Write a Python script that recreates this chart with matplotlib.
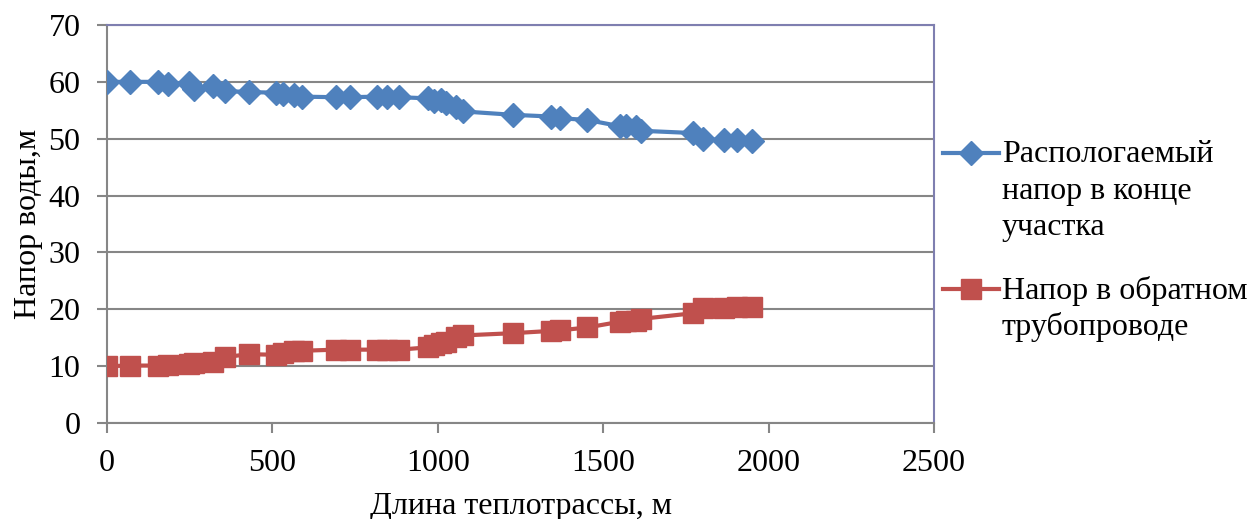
import matplotlib.pyplot as plt
from matplotlib.lines import Line2D

# === DATA ===
length_m = [0, 70, 153, 183, 248, 262, 320, 356, 430, 510, 532, 565, 588,
            692, 734, 817, 845, 884, 970, 988, 1010, 1026, 1056, 1076,
            1228, 1343, 1370, 1452, 1550, 1570, 1600, 1613, 1771, 1803,
            1864, 1905, 1950]
head_end = [60.0, 60.0, 60.0, 59.6, 59.8, 58.8, 59.2, 58.4, 58.2, 58.1, 57.9,
            57.7, 57.4, 57.3, 57.3, 57.4, 57.3, 57.3, 57.1, 56.6, 56.8, 56.3,
            55.5, 54.8, 54.2, 53.9, 53.6, 53.3, 52.2, 52.2, 52.1, 51.4, 51.0,
            50.0, 49.7, 49.7, 49.6]
head_return = [10.0, 10.1, 10.1, 10.2, 10.3, 10.5, 10.8, 11.6, 12.1, 12.0,
               12.3, 12.6, 12.7, 12.9, 12.9, 12.9, 12.9, 12.9, 13.3, 13.7,
               14.0, 14.3, 15.2, 15.4, 15.8, 16.2, 16.3, 16.8, 17.8, 17.9,
               18.0, 18.3, 19.3, 20.2, 20.3, 20.4, 20.4]
label_end = ['Распологаемый', 'напор в конце', 'участка']
label_return = ['Напор в обратном', 'трубопроводе']

blue = '#4F81BD'
red = '#C0504D'
grid_c = '#868686'
frame_c = '#7F7FB0'
fs = 23

plt.rcParams['font.family'] = ['Liberation Serif', 'DejaVu Serif']

# === VISUALIZATION ===
W, H = 1252, 519
fig = plt.figure(figsize=(W / 100, H / 100), dpi=100)
ax = fig.add_axes([107 / W, 1 - 423 / H, (934 - 107) / W, (423 - 25) / H])

ax.plot(length_m, head_end, color=blue, lw=3, marker='D', ms=12.5,
        markeredgecolor=blue, zorder=3)
ax.plot(length_m, head_return, color=red, lw=3, marker='s', ms=14,
        markeredgecolor=red, zorder=3)

ax.set_xlim(0, 2500)
ax.set_ylim(0, 70)
ax.set_xticks(range(0, 2501, 500))
ax.set_yticks(range(0, 71, 10))
ax.grid(axis='y', color=grid_c, lw=1.5)
ax.set_axisbelow(True)

for s in ['left', 'bottom']:
    ax.spines[s].set_color(grid_c)
    ax.spines[s].set_linewidth(1.5)
for s in ['top', 'right']:
    ax.spines[s].set_color(frame_c)
    ax.spines[s].set_linewidth(1.5)

ax.tick_params(axis='both', labelsize=fs, color=grid_c, width=1.5, length=7)
ax.tick_params(axis='y', pad=12)
ax.tick_params(axis='x', pad=12)

ax.set_xlabel('Длина теплотрассы, м', fontsize=fs, labelpad=10)
ax.set_ylabel('Напор воды,м', fontsize=fs, labelpad=4)

# legend drawn by hand: handle aligned with first text line, as in Excel
def px(x, y):
    return x / W, 1 - y / H

line_gap = 36.5
for first_y, color, mk, ms, lines in [(153, blue, 'D', 12.5, label_end),
                                      (289, red, 's', 14, label_return)]:
    x0, y0 = px(943, first_y)
    x1, _ = px(999, first_y)
    fig.add_artist(Line2D([x0, x1], [y0, y0], color=color, lw=3,
                          transform=fig.transFigure))
    fig.add_artist(Line2D([(x0 + x1) / 2], [y0], color=color, marker=mk,
                          ms=ms, transform=fig.transFigure))
    for i, txt in enumerate(lines):
        tx, ty = px(1002, first_y + 2 + i * line_gap)
        fig.text(tx, ty, txt, fontsize=fs, ha='left', va='center')

plt.savefig('out.png', dpi=100)
